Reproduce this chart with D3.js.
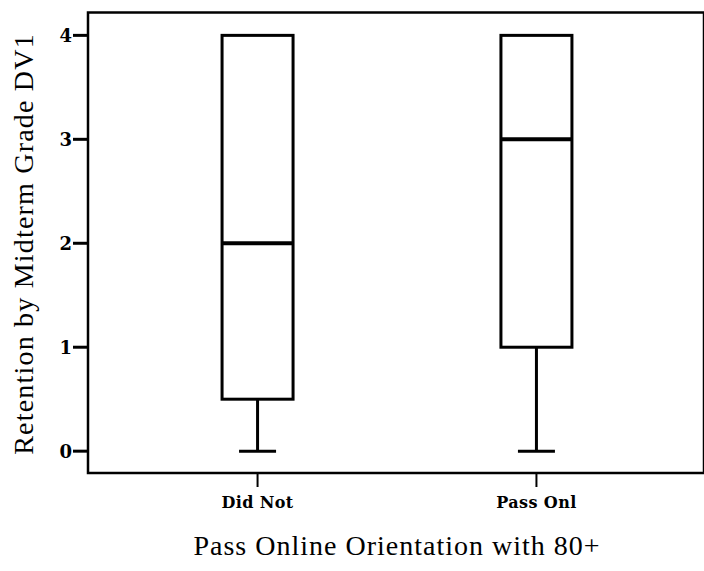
<!DOCTYPE html>
<html>
<head>
<meta charset="utf-8">
<script src="https://cdnjs.cloudflare.com/ajax/libs/d3/7.8.5/d3.min.js"></script>
<style>
  body { margin: 0; background: #fff; }
  svg { display: block; }
  .tick-label { font-family: "DejaVu Serif", serif; font-weight: bold; font-size: 16px; letter-spacing: 0.4px; fill: #000; }
  .y-axis .tick-label { font-size: 18px; letter-spacing: 0; }
  .axis-title { font-family: "Liberation Serif", "Times New Roman", serif; font-size: 28px; fill: #000; }
</style>
</head>
<body>
<svg id="chart"></svg>
<script>
// ---------------- data ----------------
var categories = ['Did Not', 'Pass Onl'];
var whiskerLow = [0, 0];
var q1 = [0.5, 1];
var median = [2, 3];
var q3 = [4, 4];
var whiskerHigh = [4, 4];
var yTicks = [0, 1, 2, 3, 4];

var boxes = categories.map(function(c, i) {
  return { name: c, lo: whiskerLow[i], q1: q1[i], med: median[i], q3: q3[i], hi: whiskerHigh[i] };
});

// ---------------- layout ----------------
var width = 704, height = 571;
var plotLeft = 88, plotRight = 703, plotTop = 12.5, plotBottom = 473;

var svg = d3.select('#chart')
  .attr('width', width)
  .attr('height', height);

var xScale = d3.scalePoint()
  .domain(categories)
  .range([plotLeft, 706])
  .padding(0.608);

var yScale = d3.scaleLinear()
  .domain([-0.21, 4.22])
  .range([plotBottom, plotTop]);

var boxHalf = 35.5, capHalf = 18.5;

// frame
svg.append('rect')
  .attr('x', plotLeft)
  .attr('y', plotTop)
  .attr('width', plotRight - plotLeft + 1)
  .attr('height', plotBottom - plotTop)
  .attr('fill', 'none')
  .attr('stroke', '#000')
  .attr('stroke-width', 2.5);

// y axis ticks
var yAxis = svg.append('g').attr('class', 'y-axis');
yAxis.selectAll('line')
  .data(yTicks)
  .enter()
  .append('line')
    .attr('x1', 73)
    .attr('x2', plotLeft)
    .attr('y1', d => yScale(d))
    .attr('y2', d => yScale(d))
    .attr('stroke', '#000')
    .attr('stroke-width', 3);

yAxis.selectAll('text')
  .data(yTicks)
  .enter()
  .append('text')
    .attr('class', 'tick-label')
    .attr('x', 72)
    .attr('y', d => yScale(d))
    .attr('dy', '0.36em')
    .attr('text-anchor', 'end')
    .text(d => d);

// x axis ticks
var xAxis = svg.append('g').attr('class', 'x-axis');
xAxis.selectAll('line')
  .data(categories)
  .enter()
  .append('line')
    .attr('x1', d => xScale(d))
    .attr('x2', d => xScale(d))
    .attr('y1', plotBottom)
    .attr('y2', 487)
    .attr('stroke', '#000')
    .attr('stroke-width', 2);

xAxis.selectAll('text')
  .data(categories)
  .enter()
  .append('text')
    .attr('class', 'tick-label')
    .attr('x', d => xScale(d))
    .attr('y', 508)
    .attr('text-anchor', 'middle')
    .text(d => d);

// axis titles
svg.append('text')
  .attr('class', 'axis-title')
  .attr('x', 397)
  .attr('y', 555)
  .attr('text-anchor', 'middle')
  .style('letter-spacing', '1px')
  .text('Pass Online Orientation with 80+');

svg.append('text')
  .attr('class', 'axis-title')
  .attr('transform', 'translate(33,244) rotate(-90)')
  .attr('text-anchor', 'middle')
  .style('letter-spacing', '1.2px')
  .text('Retention by Midterm Grade DV1');

// ---------------- boxes ----------------
var g = svg.selectAll('.box')
  .data(boxes)
  .enter()
  .append('g')
    .attr('class', 'box');

// whiskers
g.append('line')
  .attr('x1', d => xScale(d.name))
  .attr('x2', d => xScale(d.name))
  .attr('y1', d => yScale(d.lo))
  .attr('y2', d => yScale(d.q1))
  .attr('stroke', '#000')
  .attr('stroke-width', 3);

g.append('line')
  .attr('x1', d => xScale(d.name))
  .attr('x2', d => xScale(d.name))
  .attr('y1', d => yScale(d.q3))
  .attr('y2', d => yScale(d.hi))
  .attr('stroke', '#000')
  .attr('stroke-width', 3);

// caps
g.append('line')
  .attr('x1', d => xScale(d.name) - capHalf)
  .attr('x2', d => xScale(d.name) + capHalf)
  .attr('y1', d => yScale(d.lo))
  .attr('y2', d => yScale(d.lo))
  .attr('stroke', '#000')
  .attr('stroke-width', 3);

// box
g.append('rect')
  .attr('x', d => xScale(d.name) - boxHalf)
  .attr('y', d => yScale(d.q3))
  .attr('width', boxHalf * 2)
  .attr('height', d => yScale(d.q1) - yScale(d.q3))
  .attr('fill', 'none')
  .attr('stroke', '#000')
  .attr('stroke-width', 3);

// median
g.append('line')
  .attr('x1', d => xScale(d.name) - boxHalf)
  .attr('x2', d => xScale(d.name) + boxHalf)
  .attr('y1', d => yScale(d.med))
  .attr('y2', d => yScale(d.med))
  .attr('stroke', '#000')
  .attr('stroke-width', 4);
</script>
</body>
</html>
